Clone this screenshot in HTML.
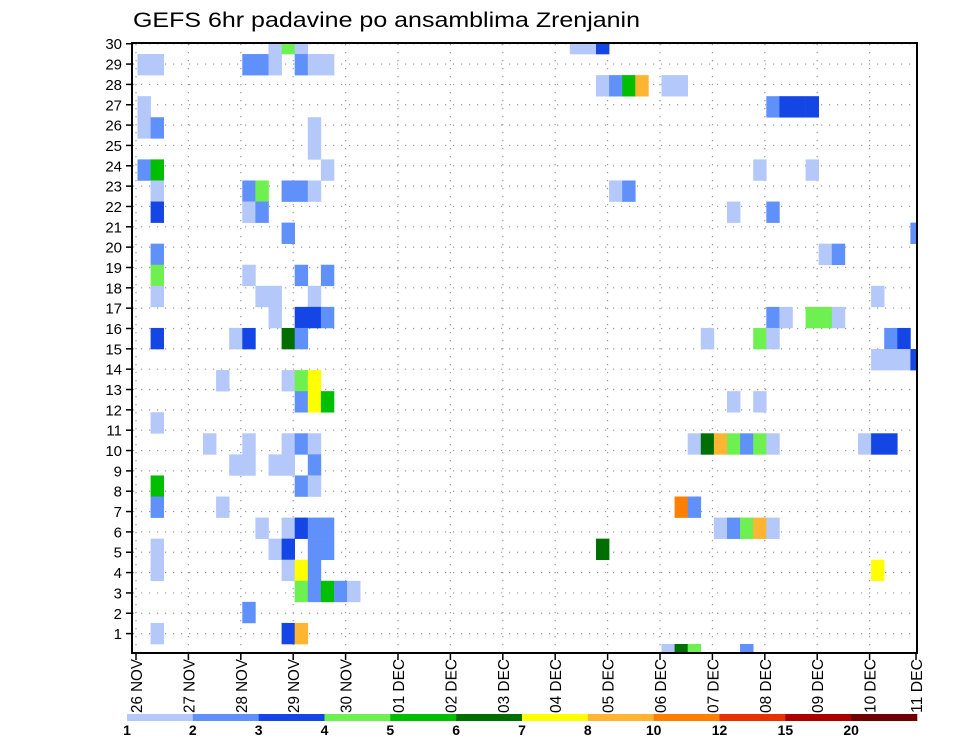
<!DOCTYPE html>
<html><head><meta charset="utf-8"><title>GEFS 6hr padavine</title>
<style>
html,body{margin:0;padding:0;background:#fff;}
svg{display:block;font-family:"Liberation Sans",sans-serif;}
</style></head>
<body>
<svg id="chart" width="960" height="742" viewBox="0 0 960 742" xmlns="http://www.w3.org/2000/svg">
<defs><clipPath id="plotclip"><rect x="132" y="43" width="785" height="610"/></clipPath></defs>
<text x="133" y="27" font-size="21" textLength="507" lengthAdjust="spacingAndGlyphs" fill="#000">GEFS 6hr padavine po ansamblima Zrenjanin</text>
<g id="grid"></g>
<g id="cells" clip-path="url(#plotclip)"></g>
<rect x="132" y="43" width="785" height="610" fill="none" stroke="#000" stroke-width="2"/>
<g id="yaxis"></g>
<g id="xaxis"></g>
<g id="colorbar"></g>
</svg>
<script>
// ---- data ----
const memberIdx = [29,29,29,29,29,29, 28,28,28,28,28,28,28,28, 27,27,27,27,27,27, 26,26,26,26,26, 25,25,25, 24, 23,23,23,23,23, 22,22,22,22,22,22,22,22, 21,21,21,21,21, 20,20, 19,19,19, 18,18,18,18, 17,17,17,17,17, 16,16,16,16,16,16,16,16,16, 15,15,15,15,15,15,15,15,15,15, 14,14,14,14, 13,13,13,13, 12,12,12,12,12, 11, 10,10,10,10,10,10,10,10,10,10,10,10,10,10,10, 9,9,9,9,9, 8,8,8, 7,7,7,7, 6,6,6,6,6,6,6,6,6,6, 5,5,5,5,5,5, 4,4,4,4,4, 3,3,3,3,3, 2, 1,1,1, 0,0,0,0];
const stepIdx = [10,11,12,33,34,35, 0,1,8,9,10,12,13,14, 35,36,37,38,40,41, 0,48,49,50,51, 0,1,13, 13, 0,1,14,47,51, 1,8,9,11,12,13,36,37, 1,8,9,45,48, 11,59, 1,52,53, 1,8,12,14, 1,9,10,13,56, 10,12,13,14,48,49,51,52,53, 1,7,8,11,12,43,47,48,57,58, 56,57,58,59, 6,11,12,13, 12,13,14,45,47, 1, 5,8,11,12,13,42,43,44,45,46,47,48,55,56,57, 7,8,10,11,13, 1,12,13, 1,6,41,42, 9,11,12,13,14,44,45,46,47,48, 1,10,11,13,14,35, 1,11,12,13,56, 12,13,14,15,16, 8, 1,11,12, 40,41,42,46];
const precipMm = [1,4,1,1,1,3, 1,1,2,2,1,2,1,1, 1,2,5,8,1,1, 1,2,3,3,3, 1,2,1, 1, 2,5,1,1,1, 1,2,4,2,2,1,1,2, 3,1,2,1,2, 2,2, 2,1,2, 4,1,2,2, 1,1,1,1,1, 1,3,3,2,2,1,4,4,1, 3,1,3,6,2,1,4,1,2,3, 1,1,1,3, 1,1,4,7, 2,7,5,1,1, 1, 1,1,1,2,1,1,6,8,4,2,4,1,1,3,3, 1,1,1,1,2, 5,2,1, 2,1,10,2, 1,1,3,2,2,1,2,4,8,1, 1,1,3,2,2,6, 1,1,7,2,7, 4,2,5,2,1, 2, 1,3,8, 1,6,4,2];
const dayLabels = ["26 NOV","27 NOV","28 NOV","29 NOV","30 NOV","01 DEC","02 DEC","03 DEC","04 DEC","05 DEC","06 DEC","07 DEC","08 DEC","09 DEC","10 DEC","11 DEC"];
const yTickLabels = [1,2,3,4,5,6,7,8,9,10,11,12,13,14,15,16,17,18,19,20,21,22,23,24,25,26,27,28,29,30];
const levelLabels = ["1","2","3","4","5","6","7","8","10","12","15","20"];
const levelValues = [1,2,3,4,5,6,7,8,10,12,15,20];
const levelColors = ["#b4c8fa","#6090fa","#1446e6","#6ef050","#00be00","#006e00","#ffff00","#ffb432","#ff8000","#e63200","#aa0000","#6e0000"];

// ---- scales ----
const NS="http://www.w3.org/2000/svg";
function xStep(k){return 137.5 + k*13.1;}
const stepW = 13.1;
function yBand(b){return 644 - b*21.07;}
const bandH = 21.07;
function xDay(d){return Math.min(136 + d*52.4, 916);}
function yTick(r){return 633.6 - (r-1)*20.34;}
function colorFor(v){let i=0;for(let j=0;j<levelValues.length;j++){if(v>=levelValues[j])i=j;}return levelColors[i];}
function mk(tag,attrs,parent){const e=document.createElementNS(NS,tag);for(const a in attrs)e.setAttribute(a,attrs[a]);parent.appendChild(e);return e;}

// grid
const grid=document.getElementById('grid');
yTickLabels.forEach(r=>{
  const l=mk('line',{x1:133,x2:916,y1:yTick(r),y2:yTick(r),stroke:'#999','stroke-width':1.2,'stroke-dasharray':'1.2,6.8'},grid);
  
  
});
for(let d=0;d<15;d++){
  const l=mk('line',{x1:xDay(d),x2:xDay(d),y1:44,y2:652,stroke:'#999','stroke-width':1.2,'stroke-dasharray':'1.2,6.8'},grid);
  
  
}

// cells
const cells=document.getElementById('cells');
for(let i=0;i<memberIdx.length;i++){
  const c=mk('rect',{x:xStep(stepIdx[i]),y:yBand(memberIdx[i]),width:stepW+0.3,height:bandH+0.3,fill:colorFor(precipMm[i])},cells);
  
  
}

// y axis
const ya=document.getElementById('yaxis');
yTickLabels.forEach(r=>{
  const t=mk('line',{x1:126,x2:132,y1:yTick(r),y2:yTick(r),stroke:'#000','stroke-width':1.5},ya);
  
  
  const tx=mk('text',{x:122,y:yTick(r)+5.5,'font-size':15,'text-anchor':'end',fill:'#000'},ya);
  tx.textContent=String(r);
  
  
});

// x axis
const xa=document.getElementById('xaxis');
dayLabels.forEach((lab,d)=>{
  const x=xDay(d);
  const t=mk('line',{x1:x,x2:x,y1:653,y2:660,stroke:'#000','stroke-width':1.5},xa);
  
  
  const tx=mk('text',{x:0,y:0,'font-size':16,textLength:54,lengthAdjust:'spacingAndGlyphs',transform:'translate('+(x+6)+',713) rotate(-90)',fill:'#000'},xa);
  tx.textContent=lab;
  
  
});

// colorbar
const cb=document.getElementById('colorbar');
const cbX0=127, cbW=(917-127)/levelColors.length;
levelColors.forEach((col,i)=>{
  const r=mk('rect',{x:cbX0+i*cbW,y:714,width:cbW+0.3,height:7,fill:col},cb);
  
  
});
levelLabels.forEach((lab,i)=>{
  const tx=mk('text',{x:cbX0+i*cbW,y:735,'font-size':14,'font-weight':'bold','text-anchor':'middle',fill:'#000'},cb);
  tx.textContent=lab;
  
  
});
</script>
</body></html>
